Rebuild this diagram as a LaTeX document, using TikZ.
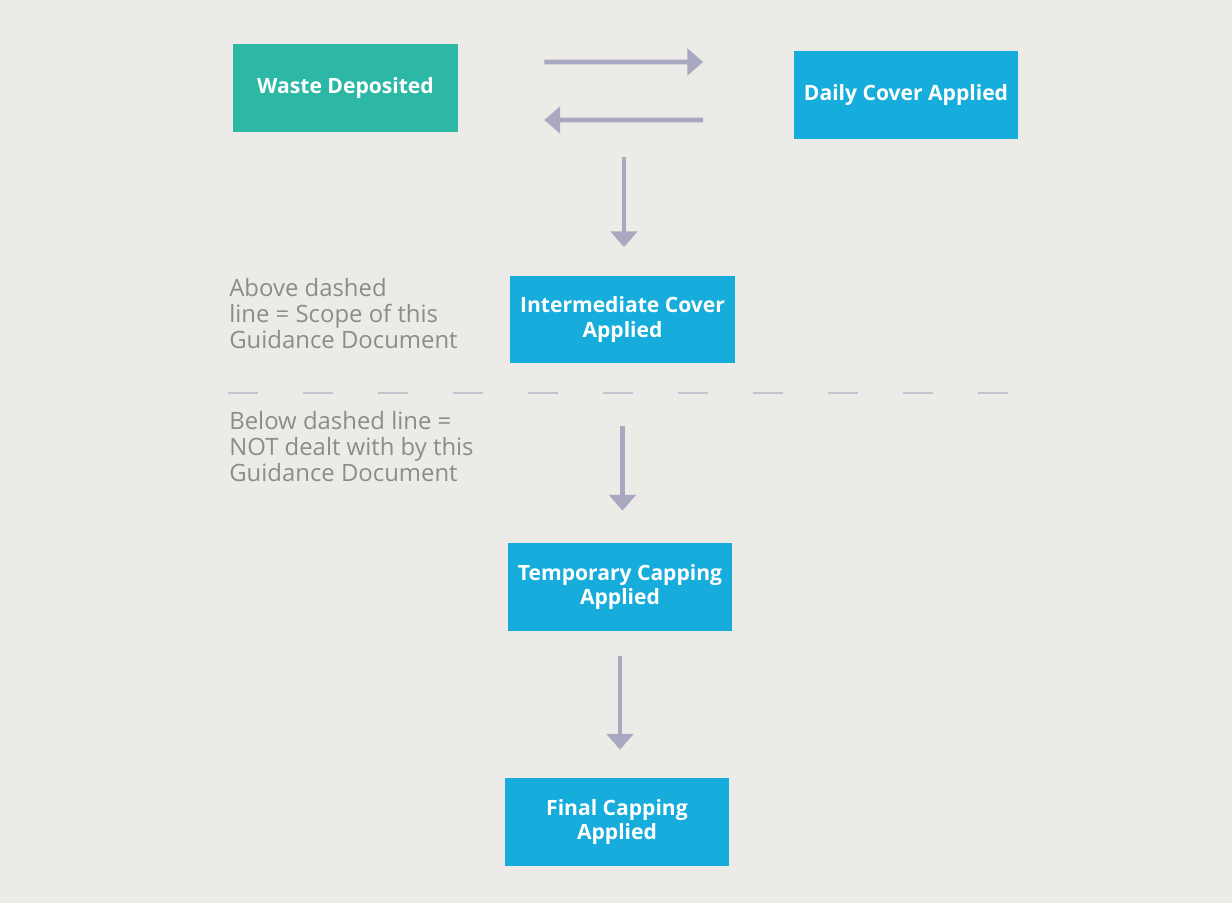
\documentclass[tikz,border=0pt]{standalone}
\usepackage{fontspec}
\setmainfont{Open Sans}
\usetikzlibrary{arrows.meta,positioning}

\definecolor{paper}{RGB}{236,235,232}
\definecolor{wastegreen}{RGB}{44,184,164}
\definecolor{coverblue}{RGB}{22,172,220}
\definecolor{flowgray}{RGB}{168,168,192}
\definecolor{notegray}{RGB}{140,140,140}

\tikzset{
  stage/.style={fill=coverblue, text=white, minimum width=4.5cm, minimum height=1.76cm,
    align=center, inner sep=2pt, font=\bfseries\fontsize{12}{14.2}\selectfont},
  flow/.style={draw=flowgray, line width=2.8pt, -{Triangle[length=9pt,width=15pt]}},
  note/.style={text=notegray, align=left, anchor=west, inner sep=0pt,
    font=\fontsize{13.6}{14.8}\selectfont}
}

\begin{document}
\begin{tikzpicture}[x=0.02cm,y=-0.02cm]
        \fill[paper] (0,0) rectangle (1232,903);
        \useasboundingbox (0,0) rectangle (1232,903);
        \node[stage, fill=wastegreen] (waste) at (345.5,88) {Waste Deposited};
        \node[stage] (daily) at (906,95) {Daily Cover Applied};
        \node[stage] (inter) at (622.5,319.5) {Intermediate Cover\\Applied};
        \node[stage] (temp) at (620,587) {Temporary Capping\\Applied};
        \node[stage] (final) at (617,822) {Final Capping\\Applied};
        \coordinate (split) at (624,157);
        \draw[flow] ([xshift=1.72cm,yshift=0.52cm]waste.east) -- ([xshift=-1.8cm,yshift=0.66cm]daily.west);
        \draw[flow] ([xshift=-1.8cm,yshift=-0.5cm]daily.west) -- ([xshift=1.72cm,yshift=-0.64cm]waste.east);
        \draw[flow, shorten >=0.56cm] (split) -- (split |- inter.north);
        \draw[flow, shorten <=1.24cm, shorten >=0.64cm] (inter.south) -- (inter.south |- temp.north);
        \draw[flow, shorten <=0.5cm, shorten >=0.56cm] (temp.south) -- (temp.south |- final.north);
        \coordinate (cutl) at (228,393);
        \coordinate (cutr) at (1015,393);
        \draw[flowgray!70!gray!60, line width=1pt, dash pattern=on 0.6cm off 0.9cm] (cutl) -- (cutr);
        \node[note] (above) at (229,314) {Above dashed\\line = Scope of this\\Guidance Document};
        \node[note] (below) at (229,447) {Below dashed line =\\NOT dealt with by this\\Guidance Document};
      \end{tikzpicture}
\end{document}
